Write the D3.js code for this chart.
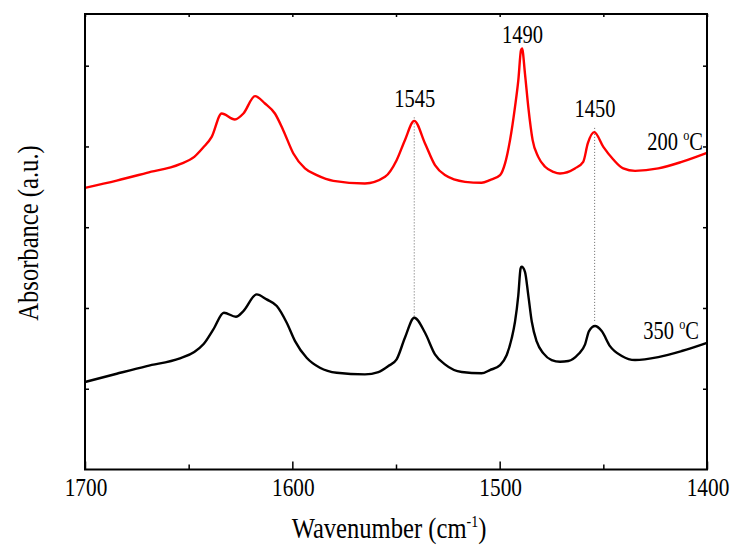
<!DOCTYPE html>
<html>
<head>
<meta charset="utf-8">
<script src="https://cdn.jsdelivr.net/npm/d3@7"></script>
<style>
  html, body { margin: 0; padding: 0; background: #fff; }
  svg { display: block; }
  text { font-family: "Liberation Serif", "DejaVu Serif", "Noto Serif", serif; fill: #000; }
</style>
</head>
<body>
<svg id="chart" width="731" height="552"></svg>
<script>
// ---- data ----
const redWavenumber = [1700, 1684.7, 1670.2, 1654.2, 1647.3, 1643.1, 1638.9, 1634.1, 1627.7, 1623.6, 1618.0, 1613.2, 1608.4, 1604.4, 1599.5, 1593.9, 1588.2, 1580.2, 1565.0, 1555.3, 1549.7, 1545.7, 1541.2, 1536.0, 1531.2, 1526.4, 1516.7, 1508.7, 1504.7, 1499.8, 1497.4, 1495.0, 1492.6, 1491.0, 1489.7, 1489.2, 1487.8, 1486.2, 1484.1, 1481.4, 1478.1, 1474.1, 1470.9, 1463.7, 1459.7, 1457.5, 1454.4, 1450.0, 1445.2, 1440.4, 1434.7, 1423.5, 1412.2, 1400.0];
const redAbsorbance = [3.488, 3.577, 3.673, 3.781, 3.871, 3.983, 4.119, 4.408, 4.334, 4.408, 4.623, 4.532, 4.408, 4.202, 3.913, 3.728, 3.645, 3.574, 3.542, 3.624, 3.830, 4.078, 4.317, 4.037, 3.769, 3.645, 3.562, 3.550, 3.583, 3.645, 3.790, 4.078, 4.490, 4.821, 5.192, 5.213, 4.903, 4.490, 4.078, 3.871, 3.748, 3.686, 3.666, 3.728, 3.809, 4.037, 4.177, 3.995, 3.839, 3.728, 3.698, 3.728, 3.809, 3.921];

const blackWavenumber = [1700, 1684.7, 1670.2, 1654.2, 1647.3, 1642.9, 1638.1, 1633.0, 1627.2, 1623.6, 1617.2, 1612.4, 1607.5, 1602.7, 1598.7, 1593.1, 1586.7, 1578.6, 1565.0, 1558.5, 1553.7, 1549.7, 1545.7, 1541.2, 1536.0, 1531.2, 1526.4, 1518.3, 1508.7, 1504.7, 1499.8, 1496.6, 1494.2, 1492.6, 1491.0, 1489.9, 1489.4, 1487.8, 1486.2, 1484.5, 1482.1, 1478.9, 1474.9, 1470.9, 1466.9, 1462.1, 1458.8, 1456.9, 1454.0, 1450.8, 1446.8, 1441.1, 1434.7, 1423.5, 1412.2, 1400.0];
const blackAbsorbance = [1.083, 1.186, 1.281, 1.376, 1.454, 1.550, 1.735, 1.941, 1.891, 1.962, 2.168, 2.106, 2.024, 1.817, 1.590, 1.384, 1.260, 1.198, 1.178, 1.207, 1.281, 1.364, 1.631, 1.879, 1.693, 1.426, 1.302, 1.207, 1.191, 1.231, 1.293, 1.417, 1.624, 1.829, 2.160, 2.490, 2.510, 2.448, 2.160, 1.829, 1.582, 1.438, 1.355, 1.334, 1.343, 1.426, 1.550, 1.714, 1.776, 1.714, 1.528, 1.405, 1.355, 1.392, 1.467, 1.569];

const seriesNames = ["200 \u00B0C", "350 \u00B0C"];
const xMajorTicks = [1700, 1600, 1500, 1400];
const xMinorTicks = [1650, 1550, 1450];
const yTicks = [1, 2, 3, 4, 5];

// peak annotations: label, label position (wavenumber, absorbance), dotted line span
const peakLabels = ["1545", "1490", "1450"];
const peakLabelWn = [1541.0, 1489.0, 1454.0];
const peakLabelAbs = [4.49, 5.28, 4.37];
const dropLineWn = [1541.2, 1454.2];
const dropLineTop = [4.36, 4.23];
const dropLineBottom = [1.88, 1.83];

// ---- layout ----
const svg = d3.select("#chart");
const x = d3.scaleLinear().domain([1700, 1400]).range([85, 707]);
const y = d3.scaleLinear().domain([0, 5.64]).range([469.5, 14]);

const red = redWavenumber.map((w, i) => [w, redAbsorbance[i]]);
const black = blackWavenumber.map((w, i) => [w, blackAbsorbance[i]]);

const condense = 0.82;
function addText(px, py, str, size, anchor, rotate) {
  const g = svg.append("g")
    .attr("transform", `translate(${px},${py})` + (rotate ? ` rotate(${rotate})` : "") + ` scale(${condense},1)`);
  return g.append("text").attr("text-anchor", anchor || "middle").attr("font-size", size)
    .attr("font-family", "'Liberation Serif', 'DejaVu Serif', serif").text(str);
}

// dotted drop lines
dropLineWn.forEach((w, i) => {
  svg.append("line")
    .attr("x1", x(w)).attr("x2", x(w))
    .attr("y1", y(dropLineTop[i])).attr("y2", y(dropLineBottom[i]))
    .attr("stroke", "#666").attr("stroke-width", 1)
    .attr("stroke-dasharray", "1,2");
});

// curves
const line = d3.line().x(d => x(d[0])).y(d => y(d[1])).curve(d3.curveMonotoneX);
svg.append("path").datum(black).attr("d", line)
  .attr("fill", "none").attr("stroke", "#000").attr("stroke-width", 2.4).attr("stroke-linejoin", "round");
svg.append("path").datum(red).attr("d", line)
  .attr("fill", "none").attr("stroke", "#ff0000").attr("stroke-width", 2.4).attr("stroke-linejoin", "round");

// axes (frame with inward ticks)
const axisBottomMajor = d3.axisBottom(x).tickValues(xMajorTicks).tickSize(-8).tickFormat("");
const axisBottomMinor = d3.axisBottom(x).tickValues(xMinorTicks).tickSize(-5).tickFormat("");
const axisTopAll = d3.axisTop(x).tickValues(xMajorTicks.concat(xMinorTicks)).tickSize(-3).tickFormat("");
const axisLeftY = d3.axisLeft(y).tickValues(yTicks).tickSize(-4).tickFormat("");
const axisRightY = d3.axisRight(y).tickValues(yTicks).tickSize(-4).tickFormat("");

function styleAxis(g) {
  g.select(".domain").remove();
  g.selectAll(".tick line").attr("stroke", "#000").attr("stroke-width", 1.5);
}
svg.append("g").attr("transform", `translate(0,${y.range()[0]})`).call(axisBottomMajor).call(styleAxis);
svg.append("g").attr("transform", `translate(0,${y.range()[0]})`).call(axisBottomMinor).call(styleAxis);
svg.append("g").attr("transform", `translate(0,${y.range()[1]})`).call(axisTopAll).call(styleAxis);
svg.append("g").attr("transform", `translate(${x.range()[0]},0)`).call(axisLeftY).call(styleAxis);
svg.append("g").attr("transform", `translate(${x.range()[1]},0)`).call(axisRightY).call(styleAxis);

svg.append("rect")
  .attr("x", x.range()[0]).attr("y", y.range()[1])
  .attr("width", x.range()[1] - x.range()[0]).attr("height", y.range()[0] - y.range()[1])
  .attr("fill", "none").attr("stroke", "#000").attr("stroke-width", 2);

// tick labels
xMajorTicks.forEach(t => addText(x(t) + 1, 496, String(t), 26, "middle"));

// axis titles
const xt = addText(389, 538, "", 30, "middle");
xt.append("tspan").text("Wavenumber (cm");
xt.append("tspan").attr("font-size", 17).attr("dy", -11).text("-1");
xt.append("tspan").attr("dy", 11).text(")");

addText(38, 233, "Absorbance (a.u.)", 30, "middle", -90);

// peak labels
peakLabels.forEach((lab, i) => addText(x(peakLabelWn[i]), y(peakLabelAbs[i]), lab, 25, "middle"));

// series labels
function seriesLabel(px, py, name) {
  const parts = name.split(" \u00B0");
  const t = addText(px, py, "", 25, "end");
  t.append("tspan").text(parts[0] + " ");
  t.append("tspan").attr("font-size", 15).attr("dy", -10).text("o");
  t.append("tspan").attr("dy", 10).text(parts[1]);
}
seriesLabel(703, 149.5, seriesNames[0]);
seriesLabel(699, 338.5, seriesNames[1]);
</script>
</body>
</html>
